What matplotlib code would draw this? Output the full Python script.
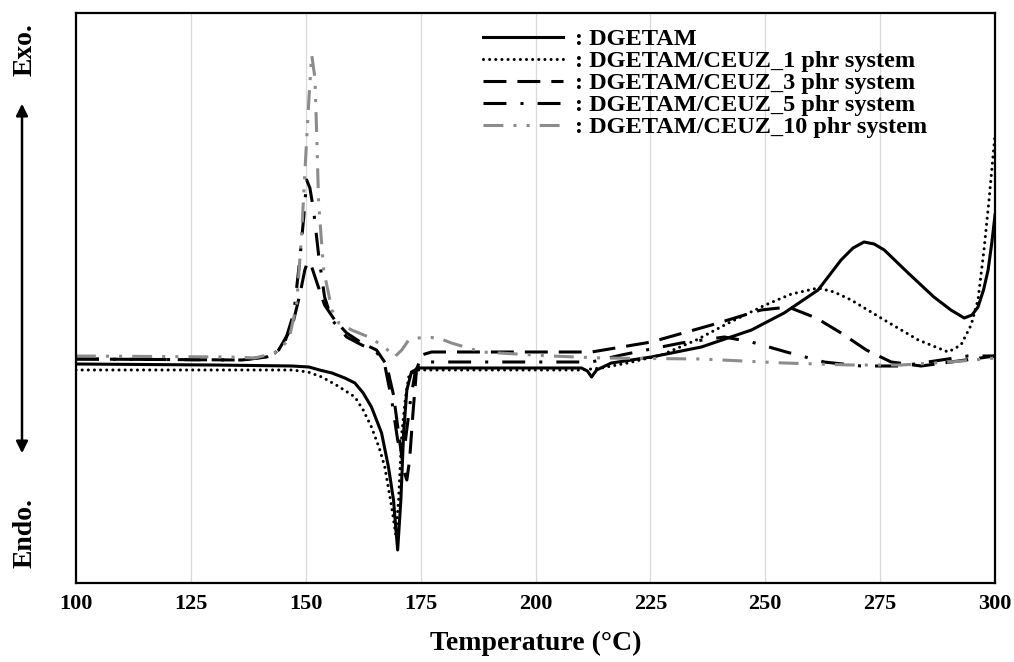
import matplotlib
matplotlib.use("Agg")
import matplotlib.pyplot as plt

plt.rcParams['font.family'] = ['Liberation Serif', 'DejaVu Serif']
plt.rcParams['font.weight'] = 'bold'

# ---- data (temperature in degC, heat flow in arbitrary units) ----
T0 = [100, 130, 147, 150.7, 153, 155.7, 158.5, 160.7, 162.5, 164.3, 166.5, 168.0, 169.1, 170.0,
      170.7, 171.3, 172.0, 173.0, 174.6, 192.6, 210, 211.3, 212.2, 213.3, 216.5, 225.2, 236.1,
      247, 254.1, 261.5, 266.5, 269.1, 271.5, 273.7, 275.9, 281.1, 286.7, 290.4, 293.3, 295,
      296.3, 297.5, 298.5, 299.3, 300]
V0 = [0.04, 0.03, 0.02, 0.01, -0.02, -0.05, -0.10, -0.15, -0.25, -0.39, -0.65, -0.99, -1.32, -1.82,
      -1.32, -0.65, -0.22, -0.04, 0.0, 0.0, 0.0, -0.03, -0.09, -0.02, 0.05, 0.11, 0.21,
      0.38, 0.55, 0.78, 1.08, 1.20, 1.26, 1.24, 1.18, 0.95, 0.71, 0.58, 0.50, 0.53,
      0.61, 0.78, 0.98, 1.25, 1.53]

T1 = [100, 147, 150.5, 153.5, 157, 160.7, 162.5, 164.3, 166, 167.2, 168.7, 169.6, 170.2, 170.9,
      171.7, 172.4, 173.5, 174.6, 210, 214.3, 220, 227.4, 235, 242, 250, 255.7, 261.5, 265,
      268.7, 275.9, 283.3, 289.8, 292.6, 294.8, 296.3, 297.6, 298.7, 300]
V1 = [-0.02, -0.02, -0.04, -0.09, -0.18, -0.29, -0.42, -0.59, -0.80, -0.99, -1.39, -1.67, -1.32, -0.65,
      -0.30, -0.09, -0.04, -0.02, -0.02, 0.0, 0.05, 0.13, 0.28, 0.45, 0.63, 0.74, 0.80, 0.76,
      0.68, 0.48, 0.28, 0.16, 0.23, 0.43, 0.68, 1.18, 1.68, 2.33]

T2 = [100, 136.1, 141.5, 144.1, 147, 148.7, 149.8, 150.4, 151.3, 152.6, 154.1, 156.3, 158.9, 162.2,
      165.4, 167.6, 169.1, 170.4, 171.3, 172, 172.6, 173.3, 174.1, 175.2, 177.4, 212.2, 225.2,
      238.3, 249.1, 255, 261.1, 266.5, 272, 277.4, 283.9, 290.4, 300]
V2 = [0.09, 0.08, 0.11, 0.18, 0.41, 0.73, 0.98, 1.06, 1.01, 0.83, 0.63, 0.48, 0.35, 0.25,
      0.18, 0.03, -0.27, -0.72, -1.02, -1.12, -0.92, -0.47, -0.02, 0.13, 0.16, 0.16, 0.26,
      0.43, 0.58, 0.61, 0.50, 0.35, 0.18, 0.06, 0.02, 0.06, 0.12]

T3 = [100, 136.1, 140.9, 143.3, 145.4, 147.4, 148.7, 149.6, 150.2, 150.9, 151.7, 152.8, 154.1, 155.7,
      158.9, 162.2, 165.4, 167.2, 168.7, 170.0, 170.9, 171.7, 172.8, 173.9, 175.2, 181.7, 212.2,
      218.7, 231.7, 241.1, 247, 254.6, 262.8, 270.9, 279.6, 288.3, 294.1, 300]
V3 = [0.09, 0.08, 0.11, 0.15, 0.25, 0.55, 1.08, 1.53, 1.88, 1.80, 1.58, 1.13, 0.71, 0.48,
      0.31, 0.23, 0.16, 0.03, -0.32, -0.72, -0.89, -0.72, -0.32, -0.02, 0.06, 0.06, 0.06,
      0.13, 0.25, 0.31, 0.26, 0.16, 0.06, 0.02, 0.02, 0.08, 0.12, 0.12]

T4 = [100, 133.9, 138.9, 143.3, 146.3, 148, 149.1, 149.8, 150.7, 151.3, 152.0, 152.4, 152.8, 153.9,
      155.7, 157.2, 160, 163.7, 167.2, 169.3, 170.9, 172.4, 175.7, 178.9, 181.7, 188.3, 203.5,
      214.3, 236, 254.1, 268.7, 279.6, 290.4, 300]
V4 = [0.12, 0.11, 0.10, 0.15, 0.28, 0.63, 1.33, 1.95, 2.70, 3.13, 2.90, 2.31, 1.65, 0.98,
      0.58, 0.45, 0.38, 0.31, 0.21, 0.11, 0.18, 0.28, 0.31, 0.30, 0.25, 0.16, 0.12,
      0.10, 0.09, 0.05, 0.03, 0.03, 0.06, 0.10]

labels = [": DGETAM",
          ": DGETAM/CEUZ_1 phr system",
          ": DGETAM/CEUZ_3 phr system",
          ": DGETAM/CEUZ_5 phr system",
          ": DGETAM/CEUZ_10 phr system"]
xticks = [100, 125, 150, 175, 200, 225, 250, 275, 300]

# ---- figure ----
W, H = 1014, 662
fig = plt.figure(figsize=(W/100, H/100), dpi=100)
L, R, TOP, BOT = 76, 995, 13, 583
ax = fig.add_axes([L/W, 1-BOT/H, (R-L)/W, (BOT-TOP)/H])

LW = 2.2
GREY = '#8c8c8c'
styles = [
    dict(color='black', linestyle='-', lw=LW),
    dict(color='black', linestyle=(0, (0.01, 2.0)), lw=LW, dash_capstyle='round'),
    dict(color='black', linestyle=(0, (7.5, 3.6)), lw=LW),
    dict(color='black', linestyle=(0, (7.5, 4.6, 1.0, 4.6)), lw=LW),
    dict(color=GREY, linestyle=(0, (6.5, 3.3, 1.0, 3.3, 1.0, 3.3)), lw=LW),
]
series = [(T0, V0), (T1, V1), (T2, V2), (T3, V3), (T4, V4)]
handles = []
for (t, v), st, lab in zip(series, styles, labels):
    ln, = ax.plot(t, v, label=lab, **st)
    handles.append(ln)

ax.set_xlim(100, 300)
ax.set_ylim(-2.15, 3.55)
ax.set_xticks(xticks)
ax.set_yticks([])
ax.grid(axis='x', color='#d9d9d9', lw=0.9)
ax.set_axisbelow(True)
ax.tick_params(axis='x', length=0, pad=8, labelsize=16)
for lab in ax.get_xticklabels():
    lab.set_fontweight('bold')
for s in ax.spines.values():
    s.set_linewidth(1.6)
    s.set_color('black')

leg = ax.legend(handles=handles, loc='upper left',
                bbox_to_anchor=(483/W, 1-28/H), bbox_transform=fig.transFigure,
                frameon=False, fontsize=17.5, labelspacing=0.0, handlelength=3.3,
                handletextpad=0.5, borderpad=0, borderaxespad=0)
for txt in leg.get_texts():
    txt.set_fontweight('bold')

fig.text((L+R)/2/W, 1-643/H, "Temperature (\u00b0C)", ha='center', va='center',
         fontsize=20, fontweight='bold')

fig.text(25/W, 1-50/H, "Exo.", rotation=90, ha='center', va='center',
         fontsize=20, fontweight='bold')
fig.text(25/W, 1-533/H, "Endo.", rotation=90, ha='center', va='center',
         fontsize=20, fontweight='bold')
fig.add_artist(matplotlib.patches.FancyArrowPatch(
    (22/W, 1-101/H), (22/W, 1-456/H), transform=fig.transFigure,
    arrowstyle='<|-|>,head_length=7,head_width=3.5', color='black', lw=1.8))

fig.savefig("out.png", dpi=100)
